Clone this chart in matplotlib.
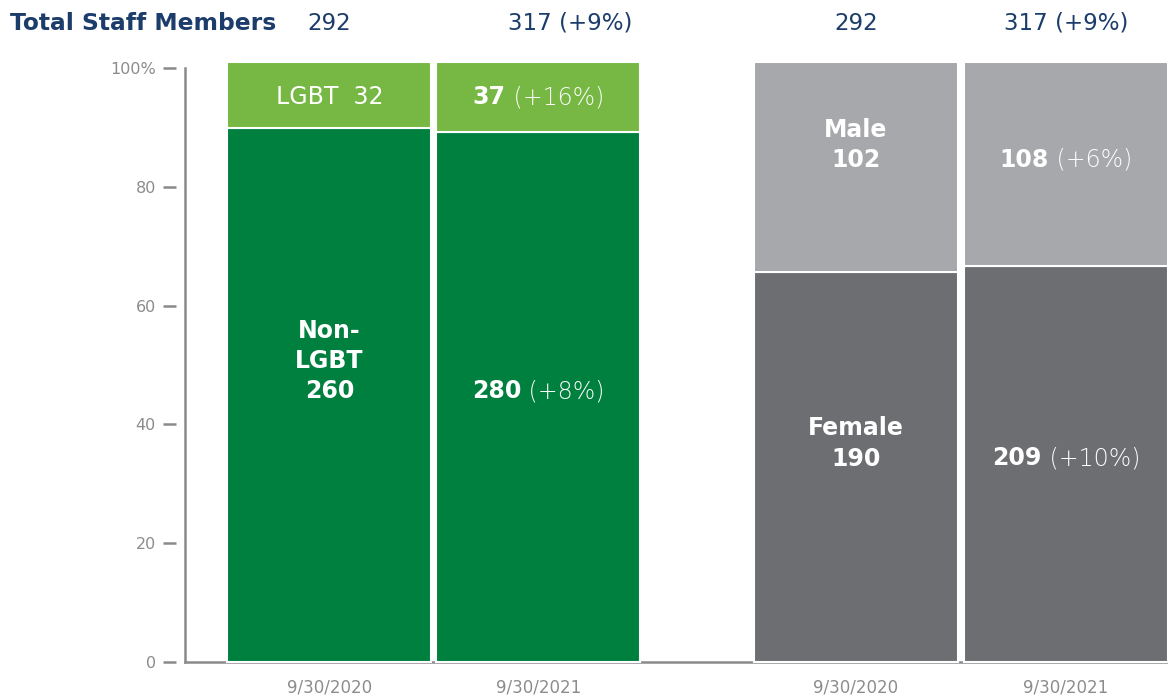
import matplotlib
matplotlib.use('Agg')
import matplotlib.pyplot as plt
from matplotlib.transforms import offset_copy, blended_transform_factory

# Werte aus dem Bild
dates = ['9/30/2020', '9/30/2021', '9/30/2020', '9/30/2021']
lgbt = [32, 37]
non_lgbt = [260, 280]
male = [102, 108]
female = [190, 209]
totals = ['292', '317 (+9%)', '292', '317 (+9%)']
lgbt_change = ['', '(+16%)']
non_lgbt_change = ['', '(+8%)']
male_change = ['', '(+6%)']
female_change = ['', '(+10%)']

# Farben
DARK_GREEN = '#00803F'
LIGHT_GREEN = '#76B843'
LIGHT_GRAY = '#A7A8AB'
DARK_GRAY = '#6D6E72'
NAVY = '#1C3D6B'
AXIS_GRAY = '#8A8A8D'
FONT = 'DejaVu Sans'

plt.rcParams['font.family'] = FONT

fig = plt.figure(figsize=(11.68, 6.96), dpi=100)
ax = fig.add_axes([185 / 1168, 34 / 696, 983 / 1168, 594 / 696])

x = [0, 1, 2.519, 3.524]
width = 0.976
full = 101.0  # Balken reichen etwas ueber die 100%-Marke

def shares(bottom, top):
    lo = [b / (b + t) * full for b, t in zip(bottom, top)]
    return lo, [full - v for v in lo]

ng_lo, ng_hi = shares(non_lgbt, lgbt)
g_lo, g_hi = shares(female, male)

ax.bar(x[:2], ng_lo, width, color=DARK_GREEN, edgecolor='white', linewidth=1.5, clip_on=False)
ax.bar(x[:2], ng_hi, width, bottom=ng_lo, color=LIGHT_GREEN, edgecolor='white', linewidth=1.5, clip_on=False)
ax.bar(x[2:], g_lo, width, color=DARK_GRAY, edgecolor='white', linewidth=1.5, clip_on=False)
ax.bar(x[2:], g_hi, width, bottom=g_lo, color=LIGHT_GRAY, edgecolor='white', linewidth=1.5, clip_on=False)

ax.set_xlim(-0.691, 4.012)
ax.set_ylim(0, 100)

# Achsen
for s in ['top', 'right']:
    ax.spines[s].set_visible(False)
ax.spines['left'].set_position(('outward', 6.5))
ax.spines['left'].set_visible(False)
ax.spines['bottom'].set_color(AXIS_GRAY)
ax.spines['bottom'].set_linewidth(1.8)
ax.spines['bottom'].set_zorder(0)
ax.axvline(ax.get_xlim()[0], color=AXIS_GRAY, linewidth=1.8, clip_on=False, zorder=0)

ax.set_yticks([0, 20, 40, 60, 80, 100])
ax.set_yticklabels(['0', '20', '40', '60', '80', '100%'])
ax.tick_params(axis='y', length=9.4, width=1.8, color=AXIS_GRAY, pad=5,
               labelsize=11.5, labelcolor='#8C8C8E')
ax.set_xticks(x)
ax.set_xticklabels(dates)
ax.tick_params(axis='x', length=0, pad=12, labelsize=12, labelcolor='#8C8C8E')

# Kopfzeile
hdr = blended_transform_factory(ax.transData, fig.transFigure)
fig.text(10 / 1168, 1 - 23 / 696, 'Total Staff Members', color=NAVY,
         fontsize=16.8, fontweight='bold', va='center', ha='left')
header_x = [0, 1.15, 2.519, 3.524]
for hx, t in zip(header_x, totals):
    ax.text(hx, 1 - 23 / 696, t, transform=hdr, color=NAVY, fontsize=16.5,
            ha='center', va='center')

renderer = fig.canvas.get_renderer()

def mixed_label(xc, y, strong, weak, size=17):
    t1 = ax.text(xc, y, strong, color='white', fontsize=size, fontweight='bold',
                 ha='left', va='center')
    t2 = ax.text(xc, y, ' ' + weak, color='white', fontsize=size, fontweight='light',
                 ha='left', va='center')
    w1 = t1.get_window_extent(renderer).width
    w2 = t2.get_window_extent(renderer).width
    total = w1 + w2
    t1.set_transform(offset_copy(ax.transData, fig=fig, x=-total / 2, y=0, units='dots'))
    t2.set_transform(offset_copy(ax.transData, fig=fig, x=-total / 2 + w1, y=0, units='dots'))

def seg_mid(lo, hi):
    return lo + hi / 2

# Erste Periode: Name + Zahl
ax.text(x[0], seg_mid(ng_lo[0], ng_hi[0]) - 0.3, 'LGBT  ' + str(lgbt[0]), color='white',
        fontsize=17, ha='center', va='center')
ax.text(x[0], ng_lo[0] / 2 - 1.3, 'Non-\nLGBT\n' + str(non_lgbt[0]), color='white',
        fontsize=17, fontweight='bold', ha='center', va='bottom', linespacing=1.3)
ax.text(x[2], seg_mid(g_lo[0], g_hi[0]) - 0.9, 'Male\n' + str(male[0]), color='white',
        fontsize=17, fontweight='bold', ha='center', va='bottom', linespacing=1.35)
ax.text(x[2], g_lo[0] / 2 - 0.7, 'Female\n' + str(female[0]), color='white',
        fontsize=17, fontweight='bold', ha='center', va='bottom', linespacing=1.35)

# Zweite Periode: Zahl + Veraenderung
mixed_label(x[1], seg_mid(ng_lo[1], ng_hi[1]), str(lgbt[1]), lgbt_change[1])
mixed_label(x[1], ng_lo[1] / 2 + 1.0, str(non_lgbt[1]), non_lgbt_change[1])
mixed_label(x[3], seg_mid(g_lo[1], g_hi[1]) + 0.8, str(male[1]), male_change[1])
mixed_label(x[3], g_lo[1] / 2 + 1.0, str(female[1]), female_change[1])

fig.savefig('out.png', dpi=100)
